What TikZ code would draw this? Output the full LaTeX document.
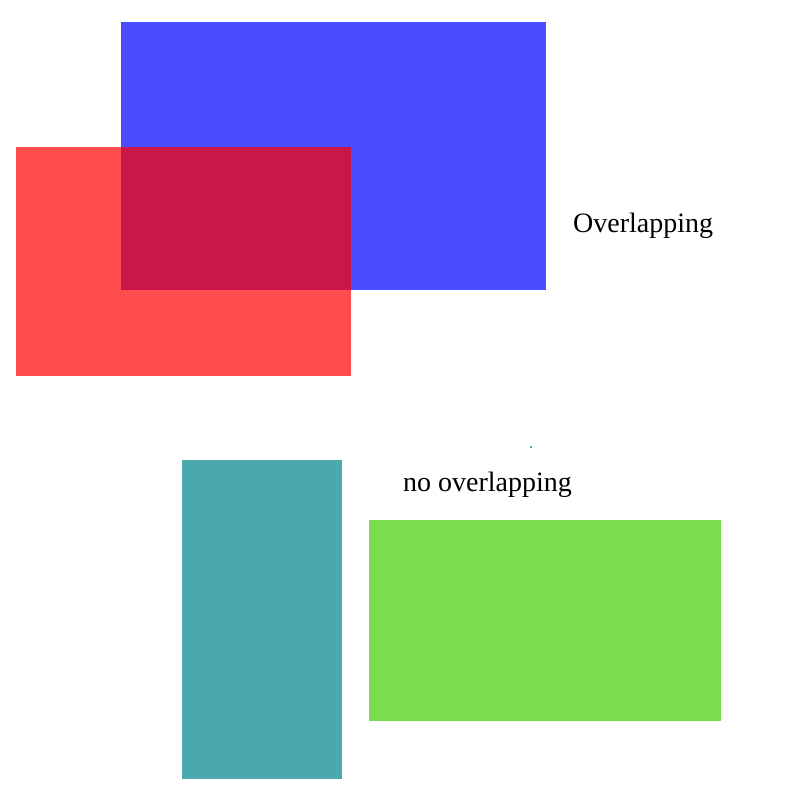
\documentclass[tikz,border=0pt]{standalone}
\usepackage{fontspec}
\setmainfont{Liberation Serif}

\begin{document}
\begin{tikzpicture}[x=1pt, y=-1pt,
  every node/.style={anchor=base west, inner sep=0pt, font=\fontsize{28}{34}\selectfont},
  box/.style={fill opacity=0.7}]
  \useasboundingbox (0,0) rectangle (800,800);
  % overlapping pair
  \fill[box, blue] (121,22) rectangle (546,290);
  \fill[box, red] (16,147) rectangle (351,376);
  \node (over) at (573,232) {Overlapping};
  % separate pair
  \fill[fill={rgb,255:red,75;green,168;blue,172}] (182,460) rectangle (342,779);
  \fill[fill={rgb,255:red,122;green,221;blue,77}] (369,520) rectangle (721,721);
  \fill[fill={rgb,255:red,75;green,168;blue,172}] (530,446) rectangle (532,448);
  \node (noover) at (403,491) {no overlapping};
\end{tikzpicture}
\end{document}
